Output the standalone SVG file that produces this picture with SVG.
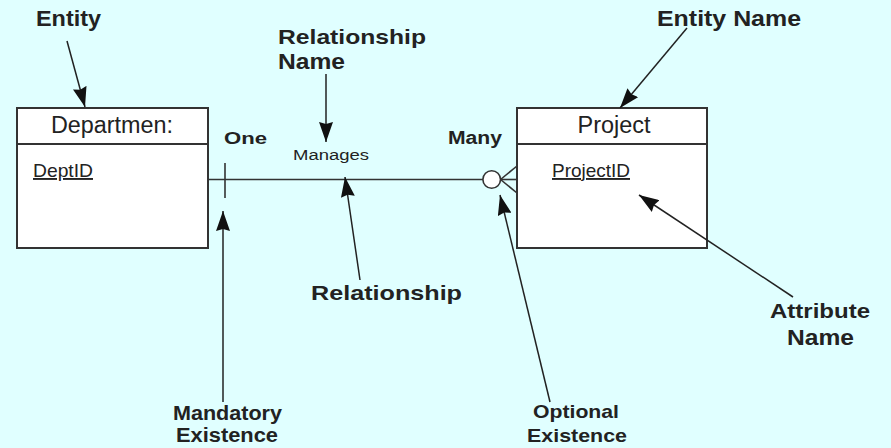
<svg xmlns="http://www.w3.org/2000/svg" width="891" height="448" viewBox="0 0 891 448">
  <defs>
    <marker id="head" viewBox="0 0 20 14" refX="20" refY="7" markerWidth="20" markerHeight="14" markerUnits="userSpaceOnUse" orient="auto">
      <path d="M0,0 L20,7 L0,14 L2,7 z" fill="#111"/>
    </marker>
    <style>
      .box { fill: #fff; stroke: #333; stroke-width: 2; }
      .div { stroke: #333; stroke-width: 2; }
      .rel { stroke: #333; stroke-width: 1.6; fill: none; }
      .ptr { stroke: #222; stroke-width: 1.5; fill: none; marker-end: url(#head); }
      .lbl { font-family: "Liberation Sans", Arial, sans-serif; font-weight: bold; fill: #222; }
      .ent { font-family: "Liberation Sans", Arial, sans-serif; fill: #222; }
      .key { font-family: "Liberation Sans", Arial, sans-serif; fill: #222; text-decoration: underline; }
    </style>
  </defs>

  <rect width="891" height="448" fill="#e0ffff"/>

  <!-- entities -->
  <g id="department">
    <rect class="box" x="17" y="108" width="191" height="140"/>
    <line class="div" x1="17" y1="144" x2="208" y2="144"/>
    <text class="ent" x="112" y="133" font-size="23" text-anchor="middle" textLength="122" lengthAdjust="spacingAndGlyphs">Departmen:</text>
    <text class="key" x="33" y="177" font-size="19" textLength="60" lengthAdjust="spacingAndGlyphs">DeptID</text>
  </g>

  <g id="project">
    <rect class="box" x="517" y="108" width="190" height="140"/>
    <line class="div" x1="517" y1="144" x2="707" y2="144"/>
    <text class="ent" x="614" y="133" font-size="23" text-anchor="middle" textLength="73" lengthAdjust="spacingAndGlyphs">Project</text>
    <text class="key" x="552" y="177" font-size="19" textLength="78" lengthAdjust="spacingAndGlyphs">ProjectID</text>
  </g>

  <!-- relationship with cardinality symbols -->
  <g id="connectors">
    <line class="rel" x1="208" y1="179.5" x2="483" y2="179.5"/>
    <line class="rel" x1="225" y1="163" x2="225" y2="198"/>
    <circle cx="491.7" cy="179.5" r="8.8" fill="#fff" stroke="#333" stroke-width="1.6"/>
    <line class="rel" x1="500.5" y1="179.5" x2="517" y2="179.5"/>
    <line class="rel" x1="500.5" y1="179.5" x2="517" y2="166"/>
    <line class="rel" x1="500.5" y1="179.5" x2="517" y2="193"/>
  </g>

  <g id="relationship-labels">
    <text class="lbl" x="224" y="144" font-size="17" textLength="43" lengthAdjust="spacingAndGlyphs">One</text>
    <text class="lbl" x="448" y="144" font-size="18" textLength="54" lengthAdjust="spacingAndGlyphs">Many</text>
    <text class="ent" x="293" y="160" font-size="14" textLength="76" lengthAdjust="spacingAndGlyphs">Manages</text>
  </g>

  <!-- callout pointers -->
  <g id="pointers">
    <line class="ptr" x1="67" y1="41" x2="85" y2="107"/>
    <line class="ptr" x1="326" y1="74" x2="326" y2="142"/>
    <line class="ptr" x1="687" y1="28" x2="620" y2="108"/>
    <line class="ptr" x1="360" y1="280" x2="345" y2="177"/>
    <line class="ptr" x1="223" y1="402" x2="223" y2="211"/>
    <line class="ptr" x1="550" y1="402" x2="500" y2="195"/>
    <line class="ptr" x1="793" y1="297" x2="639" y2="195"/>
  </g>

  <!-- callout labels -->
  <g id="callouts">
    <text class="lbl" x="36" y="26" font-size="22" textLength="65" lengthAdjust="spacingAndGlyphs">Entity</text>
    <text class="lbl" x="278" y="43.5" font-size="21" textLength="148" lengthAdjust="spacingAndGlyphs">Relationship</text>
    <text class="lbl" x="278" y="69" font-size="22" textLength="67" lengthAdjust="spacingAndGlyphs">Name</text>
    <text class="lbl" x="657" y="26" font-size="22" textLength="144" lengthAdjust="spacingAndGlyphs">Entity Name</text>
    <text class="lbl" x="311" y="300" font-size="21" textLength="151" lengthAdjust="spacingAndGlyphs">Relationship</text>
    <text class="lbl" x="173" y="420" font-size="20" textLength="109" lengthAdjust="spacingAndGlyphs">Mandatory</text>
    <text class="lbl" x="176" y="442" font-size="20" textLength="102" lengthAdjust="spacingAndGlyphs">Existence</text>
    <text class="lbl" x="533" y="418" font-size="19" textLength="86" lengthAdjust="spacingAndGlyphs">Optional</text>
    <text class="lbl" x="527" y="442" font-size="19" textLength="100" lengthAdjust="spacingAndGlyphs">Existence</text>
    <text class="lbl" x="770" y="318" font-size="21" textLength="100" lengthAdjust="spacingAndGlyphs">Attribute</text>
    <text class="lbl" x="787" y="345" font-size="22" textLength="67" lengthAdjust="spacingAndGlyphs">Name</text>
  </g>
</svg>
